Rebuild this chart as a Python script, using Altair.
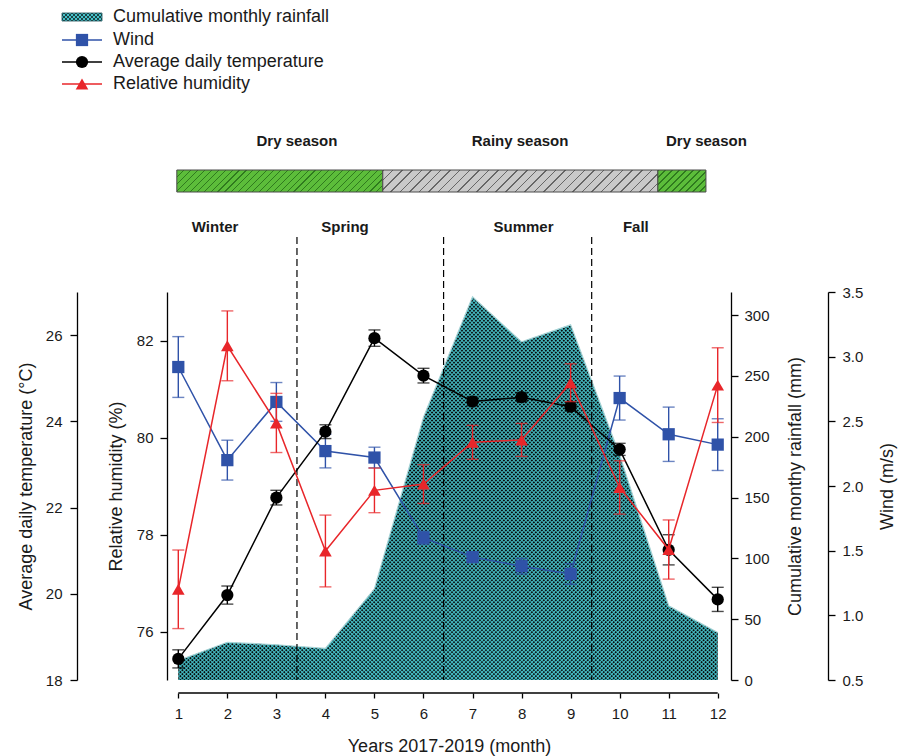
import math
import altair as alt
import pandas as pd

# ---------------- data ----------------
MONTHS = list(range(1, 13))
RAINFALL = [16, 31, 29, 26, 75, 216, 315, 278, 292, 185, 61, 39]
TEMP = [18.49, 19.97, 22.23, 23.76, 25.93, 25.06, 24.46, 24.56, 24.34, 23.35, 21.02, 19.87]
TEMP_ERR = [0.21, 0.21, 0.17, 0.16, 0.19, 0.17, 0.10, 0.10, 0.10, 0.14, 0.35, 0.28]
HUMIDITY = [76.87, 81.89, 80.30, 77.66, 78.91, 79.04, 79.90, 79.95, 81.13, 78.97, 77.69, 81.08]
HUMIDITY_ERR = [0.81, 0.72, 0.61, 0.74, 0.46, 0.40, 0.35, 0.34, 0.39, 0.55, 0.61, 0.77]
WIND = [2.92, 2.20, 2.65, 2.27, 2.22, 1.60, 1.45, 1.38, 1.32, 2.68, 2.40, 2.32]
WIND_ERR = [0.235, 0.154, 0.15, 0.13, 0.08, 0.05, 0.04, 0.06, 0.08, 0.17, 0.21, 0.20]

SEASON_NAMES = ["Dry season", "Rainy season", "Dry season"]
SEASON_START = [0.97, 5.17, 10.78]
SEASON_END = [5.17, 10.78, 11.76]
SEASON_LABEL_AT = [3.42, 7.97, 11.77]

QUARTER_NAMES = ["Winter", "Spring", "Summer", "Fall"]
QUARTER_LABEL_AT = [1.75, 4.40, 8.04, 10.33]
QUARTER_BOUNDS = [3.42, 6.41, 9.43]

LEGEND_NAMES = ["Cumulative monthly rainfall", "Wind",
                "Average daily temperature", "Relative humidity"]

# ---------------- styling ----------------
FONT = "Liberation Sans"
TXT = "#1a1a1a"
RAIN_DARK = "#080808"
RAIN_CYAN = "#46c2ca"
RAIN_EDGE = "#a9d6d9"
WIND_C = "#2f52a8"
TEMP_C = "#000000"
HUM_C = "#e8262a"
SEASON_BG = ["#5cbd3a", "#c9c9c9", "#5cbd3a"]
SEASON_HATCH = ["#2f7a1e", "#666666", "#2f7a1e"]
SEASON_PERIOD = [7.0, 9.5, 7.0]
CLEAR = "rgba(70,194,202,0)"
TEX_HSTEP = 4.0      # horizontal repeat of the rainfall texture (px)
TEX_FRAC = 0.37      # ramp width of each cyan stripe (fraction of period)

W, H = 564, 388
X_DOMAIN = [0.7696, 12.271]
RAIN_MAX = 319
PX_PER_MONTH = W / (X_DOMAIN[1] - X_DOMAIN[0])


def _vector(wpx, hpx, rising):
    b = hpx / wpx
    s = (1 + b) / (1 + b * b)
    if rising:
        return dict(x1=0, y1=0, x2=s, y2=s * b)
    return dict(x1=0, y1=1, x2=s, y2=1 - s * b)


def hatch(wpx, hpx, hstep, frac, line_color, bg_color, rising=True):
    """Hard-edged diagonal stripes (linear gradient in bounding-box units)."""
    n = max(1, round((wpx + hpx) / hstep))
    stops = []
    for k in range(n):
        a, m, e = k / n, (k + frac) / n, (k + 1) / n
        stops += [alt.GradientStop(offset=a, color=line_color),
                  alt.GradientStop(offset=m, color=line_color),
                  alt.GradientStop(offset=m, color=bg_color),
                  alt.GradientStop(offset=e, color=bg_color)]
    return alt.LinearGradient(gradient="linear", stops=stops, **_vector(wpx, hpx, rising))


def soft_hatch(wpx, hpx, hstep, frac, color, clear, rising=True):
    """Soft (ramped) diagonal stripes, avoids aliasing of very fine hatching."""
    n = max(1, round((wpx + hpx) / hstep))
    stops = []
    for k in range(n):
        stops += [alt.GradientStop(offset=k / n, color=color),
                  alt.GradientStop(offset=(k + frac) / n, color=clear),
                  alt.GradientStop(offset=(k + 1 - frac) / n, color=clear)]
    stops.append(alt.GradientStop(offset=1, color=color))
    return alt.LinearGradient(gradient="linear", stops=stops, **_vector(wpx, hpx, rising))


df = pd.DataFrame({"month": MONTHS, "rain": RAINFALL,
                   "temp": TEMP, "temp_err": TEMP_ERR,
                   "hum": HUMIDITY, "hum_err": HUMIDITY_ERR,
                   "wind": WIND, "wind_err": WIND_ERR})
for k in ["temp", "hum", "wind"]:
    df[k + "_lo"] = df[k] - df[k + "_err"]
    df[k + "_hi"] = df[k] + df[k + "_err"]

x_scale = alt.Scale(domain=X_DOMAIN, nice=False, zero=False)
X_AXIS = alt.Axis(values=MONTHS, offset=13, domain=False, tickSize=5, tickWidth=1.3,
                  tickColor="black", labelFontSize=15, labelPadding=8, labelColor=TXT,
                  titleFontSize=18, titlePadding=16, titleColor=TXT, grid=False,
                  format="d", titleFontWeight="normal", labelFlush=False)
X_TITLE = "Years 2017-2019 (month)"


def X(field="month"):
    return alt.X(f"{field}:Q", scale=x_scale, axis=X_AXIS, title=X_TITLE)


def y_axis(orient, offset, values, fmt, title_pad, label_pad, right=False):
    kw = dict(orient=orient, offset=offset, values=values, format=fmt, grid=False,
              tickSize=7, tickWidth=1.3, tickColor="black", domainColor="black",
              domainWidth=1.3, labelFontSize=15, labelPadding=label_pad, labelColor=TXT,
              titleFontSize=18, titleFontWeight="normal", titleColor=TXT,
              titlePadding=title_pad)
    if right:
        kw.update(titleAngle=270, titleBaseline="top")
    return alt.Axis(**kw)


TEMP_AXIS = y_axis("left", 90, [18, 20, 22, 24, 26], "d", 10, 8)
HUM_AXIS = y_axis("left", 0, [76, 78, 80, 82], "d", 11, 7)
RAIN_AXIS = y_axis("right", 0, [0, 50, 100, 150, 200, 250, 300], "d", 17, 6, right=True)
WIND_AXIS = y_axis("right", 97, [0.5, 1.0, 1.5, 2.0, 2.5, 3.0, 3.5], ".1f", 16, 7, right=True)

base = alt.Chart(df)

# rainfall area: dark base + two crossing cyan stripe families -> dotted texture
rain_sc = alt.Scale(domain=[0, RAIN_MAX], nice=False, zero=True)
RAIN_Y = alt.Y("rain:Q", scale=rain_sc, axis=RAIN_AXIS, title="Cumulative monthy rainfall (mm)")
area_w = (MONTHS[-1] - MONTHS[0]) * PX_PER_MONTH
area_h = max(RAINFALL) / RAIN_MAX * H
rain = alt.layer(
    base.mark_area(color=RAIN_DARK, opacity=1).encode(x=X(), y=RAIN_Y),
    base.mark_area(color=soft_hatch(area_w, area_h, TEX_HSTEP, TEX_FRAC, RAIN_CYAN, CLEAR, True),
                   opacity=1).encode(x=X(), y=RAIN_Y),
    base.mark_area(color=soft_hatch(area_w, area_h, TEX_HSTEP, TEX_FRAC, RAIN_CYAN, CLEAR, False),
                   opacity=1).encode(x=X(), y=RAIN_Y),
    base.mark_line(color=RAIN_EDGE, strokeWidth=1.2).encode(x=X(), y=RAIN_Y),
)


def series(key, color, shape, size, domain, axis, title):
    sc = alt.Scale(domain=domain, nice=False, zero=False)

    def Y(f):
        return alt.Y(f"{f}:Q", scale=sc, axis=axis, title=title)

    line = base.mark_line(color=color, strokeWidth=1.5).encode(x=X(), y=Y(key))
    bar = base.mark_rule(color=color, strokeWidth=1.4).encode(
        x=X(), y=Y(key + "_lo"), y2=f"{key}_hi:Q")
    lo = base.mark_tick(color=color, thickness=1.4, size=12, orient="horizontal").encode(
        x=X(), y=Y(key + "_lo"))
    hi = base.mark_tick(color=color, thickness=1.4, size=12, orient="horizontal").encode(
        x=X(), y=Y(key + "_hi"))
    pts = base.mark_point(shape=shape, filled=True, size=size, color=color, opacity=1).encode(
        x=X(), y=Y(key))
    return alt.layer(line, bar, lo, hi, pts)


wind = series("wind", WIND_C, "square", 150, [0.5, 3.5], WIND_AXIS, "Wind (m/s)")
temp = series("temp", TEMP_C, "circle", 150, [18, 27], TEMP_AXIS, "Average daily temperature (°C)")
hum = series("hum", HUM_C, "triangle-up", 160, [75, 83], HUM_AXIS, "Relative humidity (%)")

# quarter boundaries (dashed)
qb = pd.DataFrame({"b": QUARTER_BOUNDS})
dashes = alt.Chart(qb).mark_rule(color="black", strokeWidth=1.2, strokeDash=[7, 4]).encode(
    x=X("b"), y=alt.value(-55), y2=alt.value(H))

# x-axis baseline from first to last month
xline = alt.Chart(pd.DataFrame({"a": [MONTHS[0]], "b": [MONTHS[-1]]})).mark_rule(
    color="black", strokeWidth=1.3).encode(x=X("a"), x2="b:Q", y=alt.value(H + 13))

# season bar (hatched)
sdf = pd.DataFrame({"idx": list(range(len(SEASON_NAMES))), "name": SEASON_NAMES,
                    "start": SEASON_START, "end": SEASON_END, "at": SEASON_LABEL_AT})
BAR_Y0, BAR_Y1 = -122, -100
season_rects = []
for i in range(len(SEASON_NAMES)):
    wpx = (SEASON_END[i] - SEASON_START[i]) * PX_PER_MONTH
    season_rects.append(
        alt.Chart(sdf).transform_filter(f"datum.idx == {i}").mark_rect(
            color=hatch(wpx, BAR_Y1 - BAR_Y0, SEASON_PERIOD[i], 0.16,
                        SEASON_HATCH[i], SEASON_BG[i], True),
            stroke="#4a4a4a", strokeWidth=1, opacity=1).encode(
            x=X("start"), x2="end:Q", y=alt.value(BAR_Y0), y2=alt.value(BAR_Y1)))
season_text = alt.Chart(sdf).mark_text(font=FONT, fontSize=15, fontWeight="bold", color=TXT,
                                       baseline="middle").encode(
    x=X("at"), y=alt.value(-151), text="name:N")

qdf = pd.DataFrame({"name": QUARTER_NAMES, "at": QUARTER_LABEL_AT})
quarter_text = alt.Chart(qdf).mark_text(font=FONT, fontSize=15, fontWeight="bold", color=TXT,
                                        baseline="middle").encode(
    x=X("at"), y=alt.value(-65), text="name:N")

# legend (top-left)
LEG_Y = [-275, -252, -230, -208]
LX0, LX1, LXM, LXT = -105, -65, -85, -54
legend_layers = []
one = pd.DataFrame({"name": [0]})
sym = dict(x=alt.value(LX0), x2=alt.value(LX1), y=alt.value(LEG_Y[0] - 4), y2=alt.value(LEG_Y[0] + 4))
legend_layers.append(alt.Chart(one).mark_rect(color=RAIN_DARK, opacity=1).encode(**sym))
legend_layers.append(alt.Chart(one).mark_rect(
    color=soft_hatch(40, 8, TEX_HSTEP, TEX_FRAC, RAIN_CYAN, CLEAR, True), opacity=1).encode(**sym))
legend_layers.append(alt.Chart(one).mark_rect(
    color=soft_hatch(40, 8, TEX_HSTEP, TEX_FRAC, RAIN_CYAN, CLEAR, False), opacity=1,
    stroke="#1d4f55", strokeWidth=0.8).encode(**sym))
for i, (c, shp, sz) in enumerate([(WIND_C, "square", 150), (TEMP_C, "circle", 150),
                                   (HUM_C, "triangle-up", 160)], start=1):
    legend_layers.append(alt.Chart(one).mark_rule(color=c, strokeWidth=1.5).encode(
        x=alt.value(LX0), x2=alt.value(LX1), y=alt.value(LEG_Y[i])))
    legend_layers.append(alt.Chart(one).mark_point(shape=shp, filled=True, size=sz, color=c,
                                                   opacity=1).encode(
        x=alt.value(LXM), y=alt.value(LEG_Y[i])))
ldf = pd.DataFrame({"name": LEGEND_NAMES, "i": list(range(len(LEGEND_NAMES)))})
for i in range(len(LEGEND_NAMES)):
    legend_layers.append(alt.Chart(ldf).transform_filter(f"datum.i == {i}").mark_text(
        font=FONT, fontSize=18, color=TXT, align="left", baseline="middle").encode(
        x=alt.value(LXT), y=alt.value(LEG_Y[i]), text="name:N"))

chart = alt.layer(
    rain, dashes, xline, wind, temp, hum, *season_rects, season_text, quarter_text, *legend_layers
).resolve_scale(y="independent").properties(
    width=W, height=H,
    padding={"left": 167, "top": 292, "right": 169, "bottom": 76},
    autosize=alt.AutoSizeParams(type="none"),
).configure(font=FONT).configure_view(stroke=None, strokeWidth=0)

chart.save("out.html", embed_options={"renderer": "svg", "actions": False})
